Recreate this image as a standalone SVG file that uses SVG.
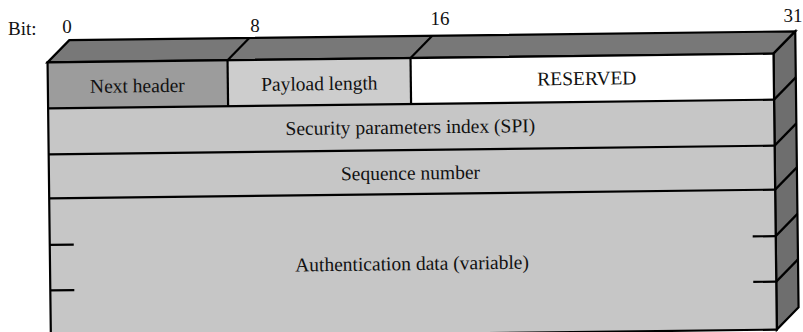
<svg xmlns="http://www.w3.org/2000/svg" width="803" height="332" viewBox="0 0 803 332">
<style>
  .t { font-family: "Liberation Serif", "Times New Roman", serif; font-size: 19.5px; fill: #111; text-anchor: middle; }
  .b { font-family: "Liberation Serif", "Times New Roman", serif; font-size: 19px; fill: #111; }
  .e { stroke: #000; stroke-width: 2.2; fill: none; stroke-linejoin: miter; }
  .top { fill: #787878; stroke: #000; stroke-width: 2.2; }
  .side { fill: #6e6e6e; stroke: #000; stroke-width: 2.2; }
  .f-dark { fill: #9c9c9c; }
  .f-light { fill: #cdcdcd; }
  .f-white { fill: #ffffff; }
  .f-row { fill: #c6c6c6; }
</style>
<rect width="803" height="332" fill="#fff"/>
<g id="bit-labels">
  <text class="b" x="8" y="35">Bit:</text>
  <text class="b" x="67" y="33" text-anchor="middle">0</text>
  <text class="b" x="255" y="32" text-anchor="middle">8</text>
  <text class="b" x="440" y="25" text-anchor="middle">16</text>
  <text class="b" x="793" y="22" text-anchor="middle">31</text>
</g>
<g transform="rotate(-0.69 412 180)">
  <g id="box-top">
    <polygon class="top" points="49,58 71,36 797,36 775,58"/>
    <line class="e" x1="229" y1="58" x2="251" y2="36"/>
    <line class="e" x1="412" y1="58" x2="434" y2="36"/>
  </g>
  <g id="box-side">
    <polygon class="side" points="775,58 797,36 797,312 775,334"/>
    <line class="e" x1="775" y1="104" x2="797" y2="82"/>
    <line class="e" x1="775" y1="150" x2="797" y2="128"/>
    <line class="e" x1="775" y1="194" x2="797" y2="172"/>
    <line class="e" x1="775" y1="240.5" x2="797" y2="218.5"/>
    <line class="e" x1="775" y1="286" x2="797" y2="264"/>
  </g>
  <g id="next-header">
    <rect class="f-dark" x="49" y="58" width="180" height="46"/>
    <text class="t" x="138.5" y="89">Next header</text>
  </g>
  <g id="payload-length">
    <rect class="f-light" x="229" y="58" width="183" height="46"/>
    <text class="t" x="320.5" y="89">Payload length</text>
  </g>
  <g id="reserved">
    <rect class="f-white" x="412" y="58" width="363" height="46"/>
    <text class="t" x="588" y="87">RESERVED</text>
  </g>
  <g id="spi">
    <rect class="f-row" x="49" y="104" width="726" height="46"/>
    <text class="t" x="411" y="133.5">Security parameters index (SPI)</text>
  </g>
  <g id="sequence-number">
    <rect class="f-row" x="49" y="150" width="726" height="44"/>
    <text class="t" x="410.5" y="179.5">Sequence number</text>
  </g>
  <g id="authentication-data">
    <rect class="f-row" x="49" y="194" width="726" height="140"/>
    <text class="t" x="411" y="270">Authentication data (variable)</text>
  </g>
  <g id="connectors">
    <rect class="e" x="49" y="58" width="726" height="276"/>
    <line class="e" x1="229" y1="58" x2="229" y2="104"/>
    <line class="e" x1="412" y1="58" x2="412" y2="104"/>
    <line class="e" x1="49" y1="104" x2="775" y2="104"/>
    <line class="e" x1="49" y1="150" x2="775" y2="150"/>
    <line class="e" x1="49" y1="194" x2="775" y2="194"/>
    <line class="e" x1="49" y1="240.5" x2="73" y2="240.5"/>
    <line class="e" x1="49" y1="286" x2="73" y2="286"/>
    <line class="e" x1="752" y1="240.5" x2="775" y2="240.5"/>
    <line class="e" x1="752" y1="286" x2="775" y2="286"/>
  </g>
</g>
</svg>
